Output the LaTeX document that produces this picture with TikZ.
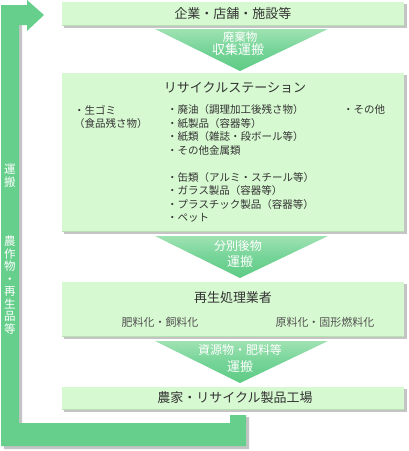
\documentclass[tikz,border=0pt]{standalone}
\usepackage{fontspec}
\setmainfont{Noto Sans CJK JP}
\definecolor{bargreen}{HTML}{66CF8C}
\definecolor{boxfill}{HTML}{D7F9D1}
\definecolor{boxedge}{HTML}{B8E0B2}
\definecolor{shadowc}{HTML}{C4C4C4}
\definecolor{tritop}{HTML}{9FE2B2}
\definecolor{tribot}{HTML}{5ECB84}
\definecolor{txt}{HTML}{333333}
\tikzset{
  x=1pt, y=-1pt,
  title/.style={inner sep=0pt, text=txt, font=\fontsize{13}{13}\selectfont},
  body/.style={inner sep=0pt, text=txt, font=\fontsize{10.5}{13}\selectfont, anchor=west},
  sub/.style={inner sep=0pt, text=txt!85, font=\fontsize{11}{11}\selectfont},
  tritext/.style={inner sep=0pt, text=white, font=\fontsize{12}{12}\selectfont},
  bartext/.style={inner sep=0pt, text=white, align=center, font=\fontsize{11.5}{12.5}\selectfont},
  shadowbox/.style={fill=shadowc},
  greenbox/.style={fill=boxfill},
  tri/.style={top color=tritop, bottom color=tribot, middle color=bargreen!90},
}
\begin{document}
\begin{tikzpicture}
\useasboundingbox (0,0) rectangle (409,451);
\fill[white] (0,0) rectangle (409,451);

% return L-arrow with shadow
\fill[shadowc] (4,449) -- (4,8) -- (22,8) -- (22,425) -- (232,425) -- (232,417) -- (249,417) -- (249,449) -- cycle;
\fill[bargreen] (1,446) -- (1,5) -- (27,5) -- (27,0) -- (44,15) -- (27,31) -- (27,25) -- (19,25) -- (19,423) -- (230,423) -- (230,415) -- (246,415) -- (246,446) -- cycle;
\node[bartext] (bar1) at (10,176) {運\\搬};
\node[bartext] (bar2) at (10,285) {農\\作\\物\\・\\再\\生\\品\\等};

% boxes: shadow, fill, bottom edge
\foreach \t/\b in {2/26, 73/232, 282/337, 387/410} {
  \fill[shadowbox] (64,\t+2) rectangle (407,\b+2);
  \fill[greenbox] (62,\t) rectangle (404,\b);
  \draw[boxedge, line width=1.2pt] (62,\b-0.6) -- (404,\b-0.6);
}

% triangles
\foreach \t/\p in {29/71, 236/278, 341/383} {
  \shade[tri] (155,\t) -- (328,\t) -- (240,\p) -- cycle;
}

% texts
\node[title] (t1) at (233,14) {企業・店舗・施設等};
\node[tritext, font=\fontsize{11.5}{11.5}\selectfont] (a1a) at (240,37) {廃棄物};
\node[tritext, font=\fontsize{13}{13}\selectfont] (a1b) at (238,50) {収集運搬};

\node[title] (t2) at (235,88) {リサイクルステーション};
\node[body] (l1) at (74,110) {・生ゴミ};
\node[body] (l2) at (74,123.5) {（食品残さ物）};
\node[body] (m1) at (167,110) {・廃油（調理加工後残さ物）};
\node[body] (m2) at (167,123.5) {・紙製品（容器等）};
\node[body] (m3) at (167,137) {・紙類（雑誌・段ボール等）};
\node[body] (m4) at (167,150.5) {・その他金属類};
\node[body] (m5) at (167,177.5) {・缶類（アルミ・スチール等）};
\node[body] (m6) at (167,191) {・ガラス製品（容器等）};
\node[body] (m7) at (167,204.5) {・プラスチック製品（容器等）};
\node[body] (m8) at (167,218) {・ペット};
\node[body] (r1) at (343,110) {・その他};

\node[tritext] (a2a) at (238,246) {分別後物};
\node[tritext, font=\fontsize{13}{13}\selectfont] (a2b) at (240,262) {運搬};

\node[title] (t3) at (233,298) {再生処理業者};
\node[sub] (s1) at (160,322) {肥料化・飼料化};
\node[sub] (s2) at (325,322) {原料化・固形燃料化};

\node[tritext] (a3a) at (240,350) {資源物・肥料等};
\node[tritext, font=\fontsize{13}{13}\selectfont] (a3b) at (240,367) {運搬};

\node[title] (t4) at (235,398) {農家・リサイクル製品工場};
\end{tikzpicture}
\end{document}
